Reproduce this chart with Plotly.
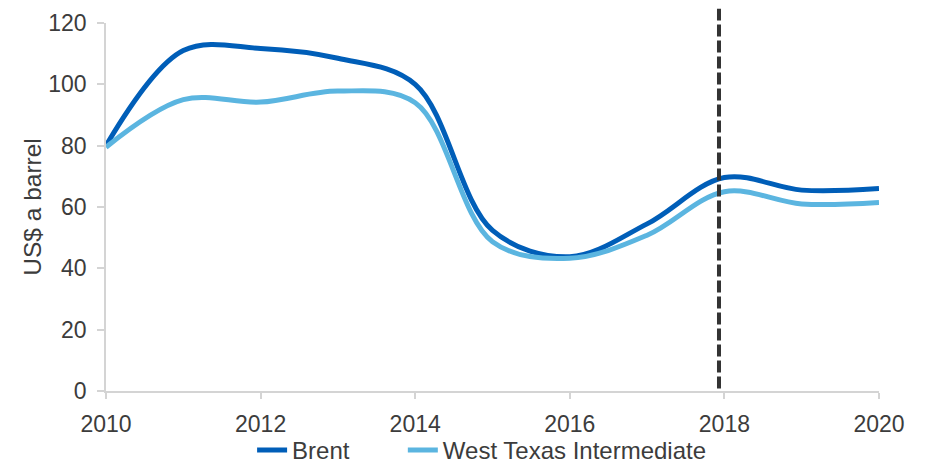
import plotly.graph_objects as go

# Annual average crude prices, US$ a barrel
years = [2010, 2011, 2012, 2013, 2014, 2015, 2016, 2017, 2018, 2019, 2020]
brent = [80.0, 111.0, 111.7, 108.5, 100.0, 52.4, 43.8, 54.5, 69.6, 65.5, 66.0]
wti = [79.5, 95.0, 94.2, 97.8, 94.0, 48.7, 43.3, 50.8, 65.0, 61.0, 61.5]

series_names = ["Brent", "West Texas Intermediate"]
series_colors = ["#005EB8", "#5BB5E0"]
legend_ids = ["legend", "legend2"]
legend_x = [0.189, 0.384]

# Forecast divider position
divider_year = 2017.93

y_ticks = [0, 20, 40, 60, 80, 100, 120]
x_ticks = [2010, 2012, 2014, 2016, 2018, 2020]

FONT = "Liberation Sans, Arial, sans-serif"
TEXT = "#3C3C3C"
AXIS = "#D4D4D4"

fig = go.Figure()
for name, vals, col, lg in zip(series_names, [brent, wti], series_colors, legend_ids):
    fig.add_trace(go.Scatter(
        x=years, y=vals, name=name, mode="lines", legend=lg,
        line=dict(color=col, width=5, shape="spline", smoothing=1.0),
    ))

fig.add_shape(
    type="line", xref="x", yref="paper",
    x0=divider_year, x1=divider_year, y0=0.007, y1=1.039,
    line=dict(color="#333333", width=4, dash="12px,4px"),
    layer="above",
)

legend_style = dict(
    orientation="h", xanchor="left", y=-0.1, yanchor="top",
    font=dict(family=FONT, size=24, color=TEXT),
    bgcolor="rgba(0,0,0,0)", borderwidth=0,
)

fig.update_layout(
    width=925, height=464,
    margin=dict(l=106, r=46, t=23, b=73, autoexpand=False),
    paper_bgcolor="white", plot_bgcolor="white",
    font=dict(family=FONT, size=23, color=TEXT),
    showlegend=True,
    legend=dict(x=legend_x[0], **legend_style),
    legend2=dict(x=legend_x[1], **legend_style),
    xaxis=dict(
        range=[2010, 2020], tickvals=x_ticks, ticktext=[str(t) for t in x_ticks],
        showgrid=False, zeroline=False, automargin=False,
        showline=True, linecolor=AXIS, linewidth=1.5,
        ticks="outside", ticklen=6, tickcolor=AXIS, tickwidth=1.5,
        ticklabelstandoff=6,
    ),
    yaxis=dict(
        range=[0, 120], tickvals=y_ticks,
        showgrid=False, zeroline=False, automargin=False,
        showline=True, linecolor=AXIS, linewidth=1.5,
        ticks="outside", ticklen=7, tickcolor=AXIS, tickwidth=1.5,
        ticklabelstandoff=6,
        title=dict(text="US$ a barrel", font=dict(family=FONT, size=24.5, color=TEXT), standoff=0),
    ),
)

fig.write_html("out.html")
